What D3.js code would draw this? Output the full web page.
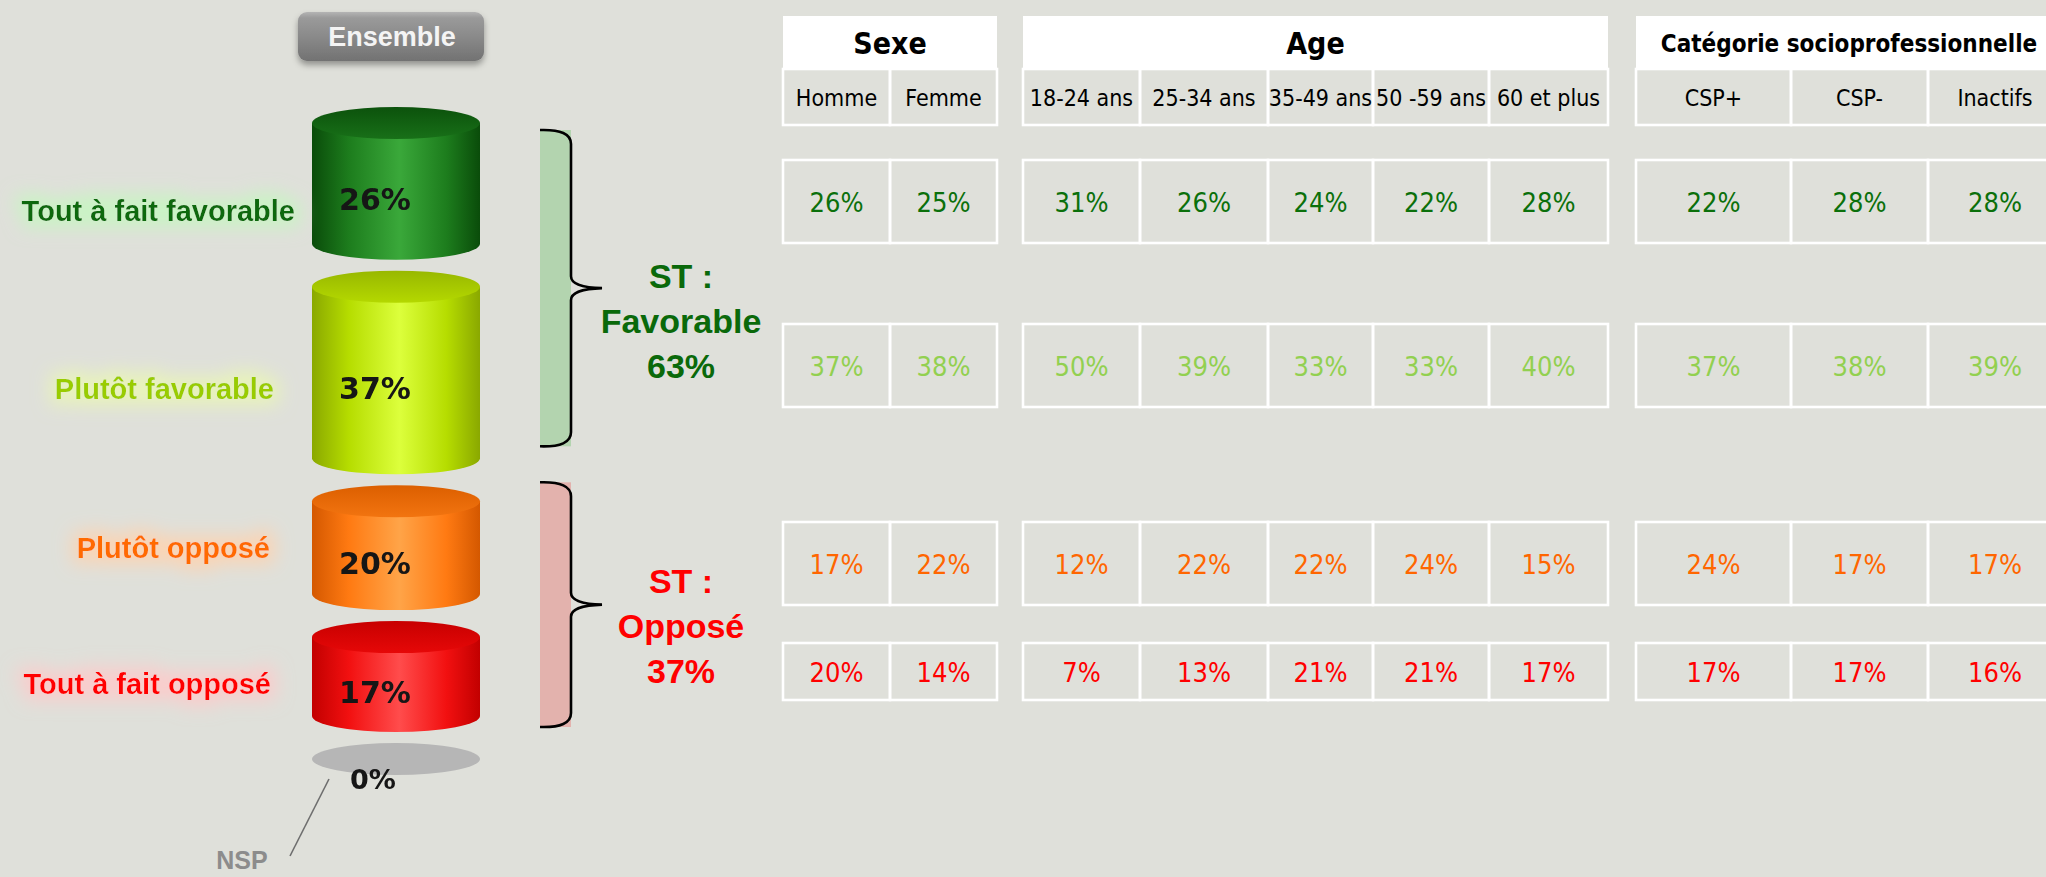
<!DOCTYPE html>
<html>
<head>
<meta charset="utf-8">
<script src="https://cdn.jsdelivr.net/npm/d3@7"></script>
<style>
  html, body { margin: 0; padding: 0; background: #dfe0da; overflow: hidden; }
  svg { display: block; }
</style>
</head>
<body>
<div id="chart"></div>
<script>
// ---- données ----
const categories = ["Tout à fait favorable", "Plutôt favorable", "Plutôt opposé", "Tout à fait opposé"];
const ensembleValues = [26, 37, 20, 17];
const nspLabel = "NSP";
const nspValue = 0;
const totalLabels = ["Favorable", "Opposé"];
const totalValues = [63, 37];

const groupTitles = ["Sexe", "Age", "Catégorie socioprofessionnelle"];
const sexeLabels = ["Homme", "Femme"];
const ageLabels = ["18-24 ans", "25-34 ans", "35-49 ans", "50 -59 ans", "60 et plus"];
const cspLabels = ["CSP+", "CSP-", "Inactifs"];

// une ligne par modalité de réponse
const sexeValues = [[26, 25], [37, 38], [17, 22], [20, 14]];
const ageValues = [[31, 26, 24, 22, 28], [50, 39, 33, 33, 40], [12, 22, 22, 24, 15], [7, 13, 21, 21, 17]];
const cspValues = [[22, 28, 28], [37, 38, 39], [24, 17, 17], [17, 17, 16]];

// ---- styles ----
const W = 2046, H = 877;
const BG = "#dfe0da";
const labelFont = "'Liberation Sans', Arial, sans-serif";
const tableFont = "'DejaVu Sans Condensed', 'DejaVu Sans', sans-serif";

const palette = [
  { text: "#0a690a", glow: "#c6f7c0", edge: "#0a4c0a", mid: "#1d7d1d", hi: "#3aa83a", topA: "#0c520c", topB: "#187018", table: "#0b700b" },
  { text: "#99cc00", glow: "#eaf7b4", edge: "#8aa800", mid: "#b6dd00", hi: "#dcff3c", topA: "#98b800", topB: "#b4d800", table: "#92d050" },
  { text: "#ff6a00", glow: "#ffd2ae", edge: "#d45800", mid: "#ff7a12", hi: "#ffa448", topA: "#dc5f00", topB: "#f27410", table: "#ff6600" },
  { text: "#ff0000", glow: "#ffc9c9", edge: "#c20000", mid: "#f21010", hi: "#ff4c4c", topA: "#c80000", topB: "#e60808", table: "#ff0000" }
];
// décalages des libellés de gauche (alignement approximatif de l'original)
const labelOffsets = [[21, 12], [0, 1], [-4, -16], [-3, -9]];

const svg = d3.select("#chart").append("svg").attr("width", W).attr("height", H);
svg.append("rect").attr("width", W).attr("height", H).attr("fill", BG);
const defs = svg.append("defs");

// ---- dégradés des cylindres ----
palette.forEach((p, i) => {
  const g = defs.append("linearGradient").attr("id", "body" + i).attr("x1", 0).attr("x2", 1).attr("y1", 0).attr("y2", 0);
  [[0, p.edge], [0.22, p.mid], [0.52, p.hi], [0.8, p.mid], [1, p.edge]].forEach(([o, c]) =>
    g.append("stop").attr("offset", o).attr("stop-color", c));
  const t = defs.append("linearGradient").attr("id", "top" + i).attr("x1", 0).attr("x2", 0).attr("y1", 0).attr("y2", 1);
  t.append("stop").attr("offset", 0).attr("stop-color", p.topA);
  t.append("stop").attr("offset", 1).attr("stop-color", p.topB);

  const f = defs.append("filter").attr("id", "glow" + i)
    .attr("x", "-20%").attr("y", "-100%").attr("width", "140%").attr("height", "300%");
  f.append("feMorphology").attr("in", "SourceAlpha").attr("operator", "dilate").attr("radius", 6).attr("result", "d");
  f.append("feGaussianBlur").attr("in", "d").attr("stdDeviation", 9).attr("result", "b");
  f.append("feFlood").attr("flood-color", p.glow).attr("flood-opacity", 0.85);
  f.append("feComposite").attr("in2", "b").attr("operator", "in").attr("result", "g");
  const m = f.append("feMerge");
  m.append("feMergeNode").attr("in", "g");
  m.append("feMergeNode").attr("in", "SourceGraphic");
});
defs.append("filter").attr("id", "soft").append("feGaussianBlur").attr("stdDeviation", 0.7);
const btnGrad = defs.append("linearGradient").attr("id", "btn").attr("x1", 0).attr("x2", 0).attr("y1", 0).attr("y2", 1);
[[0, "#b4b4b4"], [0.12, "#9a9a9a"], [0.5, "#8a8a8a"], [1, "#727272"]].forEach(([o, c]) =>
  btnGrad.append("stop").attr("offset", o).attr("stop-color", c));
const sh = defs.append("filter").attr("id", "shadow").attr("x", "-10%").attr("y", "-20%").attr("width", "120%").attr("height", "160%");
sh.append("feDropShadow").attr("dx", 0).attr("dy", 4).attr("stdDeviation", 3).attr("flood-color", "#000").attr("flood-opacity", 0.35);

// ---- bouton "Ensemble" ----
const btn = svg.append("g");
btn.append("rect").attr("x", 298).attr("y", 12).attr("width", 186).attr("height", 49).attr("rx", 9)
  .attr("fill", "url(#btn)").attr("filter", "url(#shadow)");
btn.append("text").attr("x", 392).attr("y", 37).attr("text-anchor", "middle").attr("dominant-baseline", "central")
  .attr("font-family", labelFont).attr("font-weight", "bold").attr("font-size", 27).attr("fill", "#f4f4f4")
  .text("Ensemble");

// ---- cylindres empilés ----
const cx = 396, rx = 84, ry = 16, gap = 11;
const hScale = d3.scaleLinear().domain([0, 100]).range([0, 464]);
let yCursor = 107;
const cylinders = ensembleValues.map((v, i) => {
  const top = yCursor;
  const body = hScale(v);
  yCursor += body + 2 * ry + gap;
  return { i, v, top, body, cyTop: top + ry, cyBot: top + ry + body };
});
const nspTop = yCursor;

const cylG = svg.append("g");
cylinders.forEach(c => {
  cylG.append("path")
    .attr("d", `M${cx - rx},${c.cyTop} L${cx - rx},${c.cyBot} A${rx},${ry} 0 0 0 ${cx + rx},${c.cyBot} L${cx + rx},${c.cyTop} Z`)
    .attr("fill", `url(#body${c.i})`);
  cylG.append("ellipse").attr("cx", cx).attr("cy", c.cyTop).attr("rx", rx).attr("ry", ry)
    .attr("fill", `url(#top${c.i})`);
  cylG.append("text").attr("x", cx - 21).attr("y", c.top + 2 * ry + c.body / 2)
    .attr("text-anchor", "middle").attr("dominant-baseline", "central")
    .attr("font-family", "'DejaVu Sans', sans-serif").attr("font-weight", "bold").attr("font-size", 30)
    .attr("fill", "#141414").attr("filter", "url(#soft)")
    .text(c.v + "%");

  // libellé de la modalité
  const [dx, dy] = labelOffsets[c.i];
  svg.append("text").attr("x", 274 + dx).attr("y", c.top + 2 * ry + c.body / 2 + dy)
    .attr("text-anchor", "end").attr("dominant-baseline", "central")
    .attr("font-family", labelFont).attr("font-weight", "bold").attr("font-size", 29)
    .attr("fill", palette[c.i].text).attr("filter", `url(#glow${c.i})`)
    .text(categories[c.i]);
});

// NSP
cylG.append("ellipse").attr("cx", cx).attr("cy", nspTop + ry + hScale(nspValue)).attr("rx", rx).attr("ry", ry)
  .attr("fill", "#b6b6b6");
cylG.append("text").attr("x", cx - 23).attr("y", nspTop + 2 * ry + 4)
  .attr("text-anchor", "middle").attr("dominant-baseline", "central")
  .attr("font-family", "'DejaVu Sans', sans-serif").attr("font-weight", "bold").attr("font-size", 27)
  .attr("fill", "#141414").attr("filter", "url(#soft)")
  .text(nspValue + "%");
svg.append("line").attr("x1", cx - 67).attr("y1", nspTop + ry + 20).attr("x2", 290).attr("y2", 856)
  .attr("stroke", "#6e6e6e").attr("stroke-width", 1.6);
svg.append("text").attr("x", 242).attr("y", 869).attr("text-anchor", "middle")
  .attr("font-family", labelFont).attr("font-weight", "bold").attr("font-size", 25).attr("fill", "#8c8c8c")
  .text(nspLabel);

// ---- accolades + sous-totaux ----
const braces = [
  { from: 0, to: 1, fill: "#b3d4af", color: "#0a690a", insetTop: 23, insetBot: 28, dy: -12 },
  { from: 2, to: 3, fill: "#e3b2ad", color: "#ff0000", insetTop: -3, insetBot: 5, dy: -24 }
];
const bx0 = 540, bx1 = 571, bTip = 602;
braces.forEach((b, k) => {
  const c0 = cylinders[b.from], c1 = cylinders[b.to];
  const top = c0.top + b.insetTop;
  const bot = c1.cyBot + ry - b.insetBot;
  const mid = (top + bot) / 2;
  svg.append("rect").attr("x", bx0).attr("y", top).attr("width", bx1 - bx0).attr("height", bot - top).attr("fill", b.fill);
  const p = d3.path();
  p.moveTo(bx0, top);
  p.quadraticCurveTo(bx1, top - 1, bx1, top + 14);
  p.lineTo(bx1, mid - 12);
  p.quadraticCurveTo(bx1, mid - 1, bTip, mid);
  p.quadraticCurveTo(bx1, mid + 1, bx1, mid + 12);
  p.lineTo(bx1, bot - 14);
  p.quadraticCurveTo(bx1, bot + 1, bx0, bot);
  svg.append("path").attr("d", p.toString()).attr("fill", "none").attr("stroke", "#000").attr("stroke-width", 2.6);

  const lines = ["ST :", totalLabels[k], totalValues[k] + "%"];
  svg.append("g").selectAll("text").data(lines).join("text")
    .attr("x", 681).attr("y", (d, j) => mid + b.dy + j * 45)
    .attr("text-anchor", "middle").attr("dominant-baseline", "central")
    .attr("font-family", labelFont).attr("font-weight", "bold").attr("font-size", 34)
    .attr("fill", b.color)
    .text(d => d);
});

// ---- tableau des sous-populations ----
const headerBand = [16, 69], subBand = [69, 125];
const rowBands = [[160, 243], [324, 407], [522, 605], [643, 700]];
const rowColors = palette.map(p => p.table);
const tables = [
  { title: groupTitles[0], cols: sexeLabels, values: sexeValues, range: [783, 997], widths: [1, 1], titleSize: 30 },
  { title: groupTitles[1], cols: ageLabels, values: ageValues, range: [1023, 1608], widths: [117, 128, 105, 116, 119], titleSize: 30 },
  { title: groupTitles[2], cols: cspLabels, values: cspValues, range: [1636, 2062], widths: [155, 137, 134], titleSize: 24 }
];
const lineW = 2.6;

tables.forEach(t => {
  // colonnes de largeurs inégales : échelle linéaire sur les largeurs cumulées
  const cum = [0, ...d3.cumsum(t.widths)];
  const xs = d3.scaleLinear().domain([0, cum[cum.length - 1]]).range(t.range);
  const cols = t.cols.map((c, j) => ({ c, j, x0: xs(cum[j]), x1: xs(cum[j + 1]) }));
  const g = svg.append("g");
  g.append("rect").attr("x", t.range[0]).attr("y", headerBand[0])
    .attr("width", t.range[1] - t.range[0]).attr("height", headerBand[1] - headerBand[0]).attr("fill", "#fff");
  g.append("text").attr("x", (t.range[0] + t.range[1]) / 2).attr("y", (headerBand[0] + headerBand[1]) / 2 + 1)
    .attr("text-anchor", "middle").attr("dominant-baseline", "central")
    .attr("font-family", tableFont).attr("font-weight", "bold").attr("font-size", t.titleSize).attr("fill", "#000")
    .text(t.title);

  // ligne des modalités
  g.selectAll(".sub").data(cols).join("rect").attr("class", "sub")
    .attr("x", d => d.x0).attr("y", subBand[0]).attr("width", d => d.x1 - d.x0).attr("height", subBand[1] - subBand[0])
    .attr("fill", "none").attr("stroke", "#fff").attr("stroke-width", lineW);
  g.selectAll(".subtxt").data(cols).join("text").attr("class", "subtxt")
    .attr("x", d => (d.x0 + d.x1) / 2).attr("y", (subBand[0] + subBand[1]) / 2 + 1)
    .attr("text-anchor", "middle").attr("dominant-baseline", "central")
    .attr("font-family", tableFont).attr("font-size", 23).attr("fill", "#000")
    .text(d => d.c);

  // valeurs
  rowBands.forEach(([y0, y1], r) => {
    const cells = cols.map(d => ({ ...d, v: t.values[r][d.j] }));
    g.selectAll(".cell" + r).data(cells).join("rect").attr("class", "cell" + r)
      .attr("x", d => d.x0).attr("y", y0).attr("width", d => d.x1 - d.x0).attr("height", y1 - y0)
      .attr("fill", "none").attr("stroke", "#fff").attr("stroke-width", lineW);
    g.selectAll(".val" + r).data(cells).join("text").attr("class", "val" + r)
      .attr("x", d => (d.x0 + d.x1) / 2).attr("y", (y0 + y1) / 2 + 1)
      .attr("text-anchor", "middle").attr("dominant-baseline", "central")
      .attr("font-family", tableFont).attr("font-size", 27).attr("fill", rowColors[r])
      .text(d => d.v + "%");
  });
});
</script>
</body>
</html>
